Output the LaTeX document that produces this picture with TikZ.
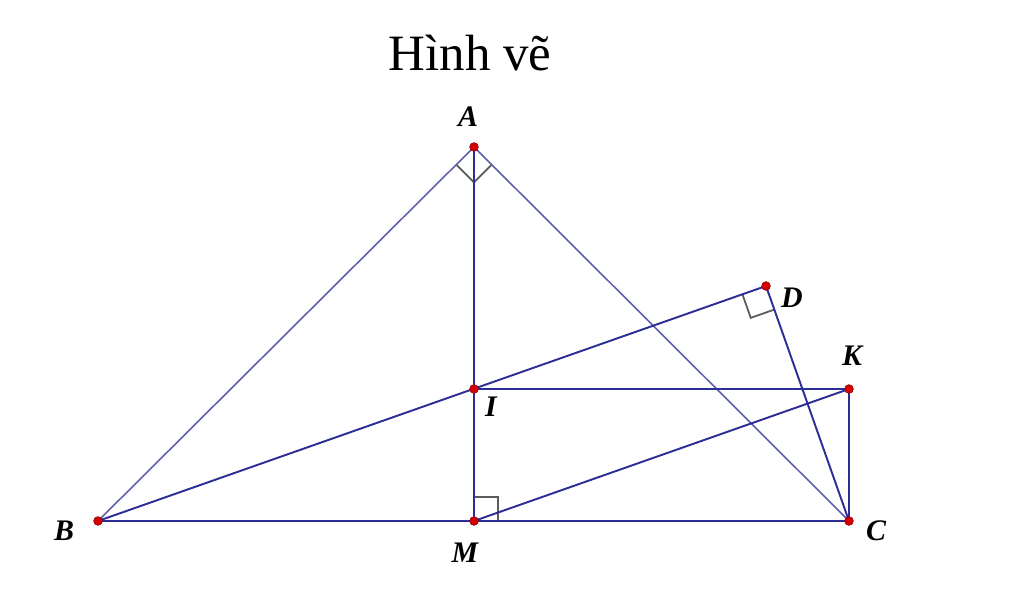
\documentclass[tikz,border=0pt]{standalone}
\usepackage{fontspec}
\setmainfont{Liberation Serif}
\usepackage{xcolor}
\usetikzlibrary{calc}
\definecolor{segblue}{RGB}{45,45,150}
\definecolor{sideblue}{RGB}{95,95,175}
\definecolor{markgray}{RGB}{90,90,90}
\definecolor{ptred}{RGB}{215,0,0}
\tikzset{
  seg/.style={segblue,line width=1.1pt},
  side/.style={sideblue,line width=0.9pt},
  rmark/.style={markgray,line width=1pt},
  pt/.style={circle,fill=ptred,draw=ptred!60!black,line width=0.3pt,inner sep=0pt,minimum size=5pt},
  lbl/.style={font=\fontsize{17}{17}\selectfont\bfseries\itshape}
}

\begin{document}
\begin{tikzpicture}[x=0.02cm,y=-0.02cm]
        \useasboundingbox (0,0) rectangle (1024,604);
        
        % Title
        \node[font=\fontsize{29}{29}\selectfont] (title) at (470,53) {Hình vẽ};
        
        % Points
        \coordinate (A) at (474,147);
        \coordinate (B) at (98,521);
        \coordinate (C) at (849,521);
        \coordinate (M) at (474,521);
        \coordinate (I) at (474,389);
        \coordinate (K) at (849,389);
        \coordinate (D) at (766,286);
        
        % Right angle marks
        \coordinate (a1) at ($(A)!0.5cm!(B)$);
        \coordinate (a2) at ($(A)!0.5cm!(C)$);
        \draw[rmark] (a1) -- ($(a1)+(a2)-(A)$) -- (a2);
        \coordinate (d1) at ($(D)!0.5cm!(B)$);
        \coordinate (d2) at ($(D)!0.5cm!(C)$);
        \draw[rmark] (d1) -- ($(d1)+(d2)-(D)$) -- (d2);
        \coordinate (m1) at ($(M)!0.48cm!(A)$);
        \coordinate (m2) at ($(M)!0.48cm!(C)$);
        \draw[rmark] (m1) -- ($(m1)+(m2)-(M)$) -- (m2);
        
        % Triangle sides
        \draw[side] (B) -- (A) -- (C);
        \draw[seg] (B) -- (C);
        
        % Other segments
        \draw[seg] (A) -- (M);
        \draw[seg] (B) -- (D) -- (C);
        \draw[seg] (I) -- (K) -- (C);
        \draw[seg] (M) -- (K);
        
        % Dots
        \foreach \p in {A,B,C,M,I,K,D} {
            \node[pt] (dot\p) at (\p) {};
        }
        
        % Labels
        \node[lbl] (lA) at (468,117) {A};
        \node[lbl] (lB) at (64,531) {B};
        \node[lbl] (lC) at (876,531) {C};
        \node[lbl] (lM) at (465,553) {M};
        \node[lbl] (lI) at (491,407) {I};
        \node[lbl] (lK) at (852,356) {K};
        \node[lbl] (lD) at (792,298) {D};
        
    \end{tikzpicture}
\end{document}
